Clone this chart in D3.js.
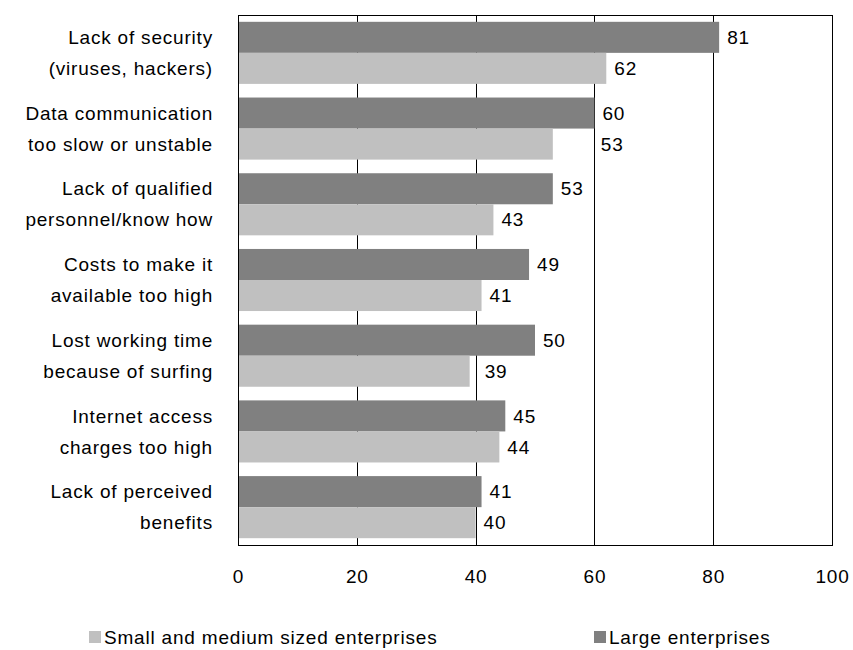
<!DOCTYPE html>
<html>
<head>
<meta charset="utf-8">
<script src="https://cdn.jsdelivr.net/npm/d3@7/dist/d3.min.js"></script>
<style>
  html, body { margin: 0; padding: 0; background: #fff; }
  svg { display: block; font-family: "Liberation Sans", Arial, sans-serif; }
</style>
</head>
<body>
<svg id="chart" width="853" height="650"></svg>
<script>
// Obstacles to internet use, % of enterprises
const categoryLines = [
  ["Lack of security", "(viruses, hackers)"],
  ["Data communication", "too slow  or unstable"],
  ["Lack of qualified", "personnel/know  how"],
  ["Costs to make it", "available too high"],
  ["Lost working time", "because of surfing"],
  ["Internet access", "charges too high"],
  ["Lack of perceived", "benefits"]
];
const largeValues = [81, 60, 53, 49, 50, 45, 41];
const smeValues = [62, 53, 43, 41, 39, 44, 40];
const xTicks = [0, 20, 40, 60, 80, 100];
const seriesNames = ["Small and medium sized enterprises", "Large enterprises"];

const DARK = "#808080", LIGHT = "#c0c0c0";
const FONT = 19, SPACING = "0.8px";

const svg = d3.select("#chart");
const plot = { left: 238, right: 832, top: 15, bottom: 545 };

const keys = categoryLines.map((d, i) => "c" + i);
const x = d3.scaleLinear().domain([0, 100]).range([plot.left, plot.right]);
const y = d3.scaleBand().domain(keys).range([plot.top, plot.bottom])
  .paddingInner(0.18).paddingOuter(0.09);
const half = y.bandwidth() / 2;

// vertical gridlines (drawn below the bars)
svg.append("g")
  .selectAll("line")
  .data(xTicks.filter(t => t > 0 && t < 100))
  .join("line")
  .attr("x1", d => Math.round(x(d)) + 0.5).attr("x2", d => Math.round(x(d)) + 0.5)
  .attr("y1", plot.top).attr("y2", plot.bottom)
  .attr("stroke", "#000").attr("stroke-width", 1);

const rows = keys.map((k, i) => ({ key: k, lines: categoryLines[i], large: largeValues[i], sme: smeValues[i] }));

// bars: large enterprises on top, SMEs below
const g = svg.append("g");
g.selectAll("rect.large").data(rows).join("rect")
  .attr("class", "large")
  .attr("x", x(0)).attr("y", d => y(d.key))
  .attr("width", d => x(d.large) - x(0)).attr("height", half)
  .attr("fill", DARK);
g.selectAll("rect.sme").data(rows).join("rect")
  .attr("class", "sme")
  .attr("x", x(0)).attr("y", d => y(d.key) + half)
  .attr("width", d => x(d.sme) - x(0)).attr("height", half)
  .attr("fill", LIGHT);

// value labels; two SME labels sit further right to clear the gridlines
const smeNudge = { c1: 40, c4: 7 };
const labels = svg.append("g")
  .attr("font-size", FONT).attr("fill", "#000").style("letter-spacing", SPACING);
labels.selectAll("text.large").data(rows).join("text")
  .attr("x", d => x(d.large) + 8)
  .attr("y", d => y(d.key) + half / 2)
  .attr("dy", "0.35em")
  .text(d => d.large);
labels.selectAll("text.sme").data(rows).join("text")
  .attr("x", d => x(d.sme) + 8 + (smeNudge[d.key] || 0))
  .attr("y", d => y(d.key) + half * 1.5)
  .attr("dy", "0.35em")
  .text(d => d.sme);

// category labels, two lines each
const cat = svg.append("g")
  .attr("font-size", FONT).attr("fill", "#000").attr("text-anchor", "end")
  .style("letter-spacing", SPACING);
rows.forEach(r => {
  r.lines.forEach((line, j) => {
    cat.append("text")
      .attr("x", 213)
      .attr("y", y(r.key) + half * (j + 0.5))
      .attr("dy", "0.35em")
      .text(line);
  });
});

// plot frame
svg.append("rect")
  .attr("x", plot.left + 0.5).attr("y", plot.top + 0.5)
  .attr("width", plot.right - plot.left).attr("height", plot.bottom - plot.top)
  .attr("fill", "none").attr("stroke", "#000").attr("stroke-width", 1);

// x axis tick labels
const xAxis = d3.axisBottom(x).tickValues(xTicks).tickSize(0).tickPadding(25);
svg.append("g")
  .attr("transform", `translate(0,${plot.bottom})`)
  .call(xAxis)
  .call(a => a.select(".domain").remove())
  .call(a => a.selectAll("text")
    .attr("font-size", FONT).attr("font-family", "Liberation Sans, Arial, sans-serif")
    .attr("fill", "#000").style("letter-spacing", SPACING));

// legend
const legendItems = [
  { name: seriesNames[0], color: LIGHT, x: 89 },
  { name: seriesNames[1], color: DARK, x: 594 }
];
const lg = svg.append("g").attr("font-size", FONT).style("letter-spacing", SPACING);
lg.selectAll("rect").data(legendItems).join("rect")
  .attr("x", d => d.x).attr("y", 631).attr("width", 12).attr("height", 12)
  .attr("fill", d => d.color);
lg.selectAll("text").data(legendItems).join("text")
  .attr("x", d => d.x + 15).attr("y", 637).attr("dy", "0.35em")
  .attr("fill", "#000")
  .text(d => d.name);
</script>
</body>
</html>
